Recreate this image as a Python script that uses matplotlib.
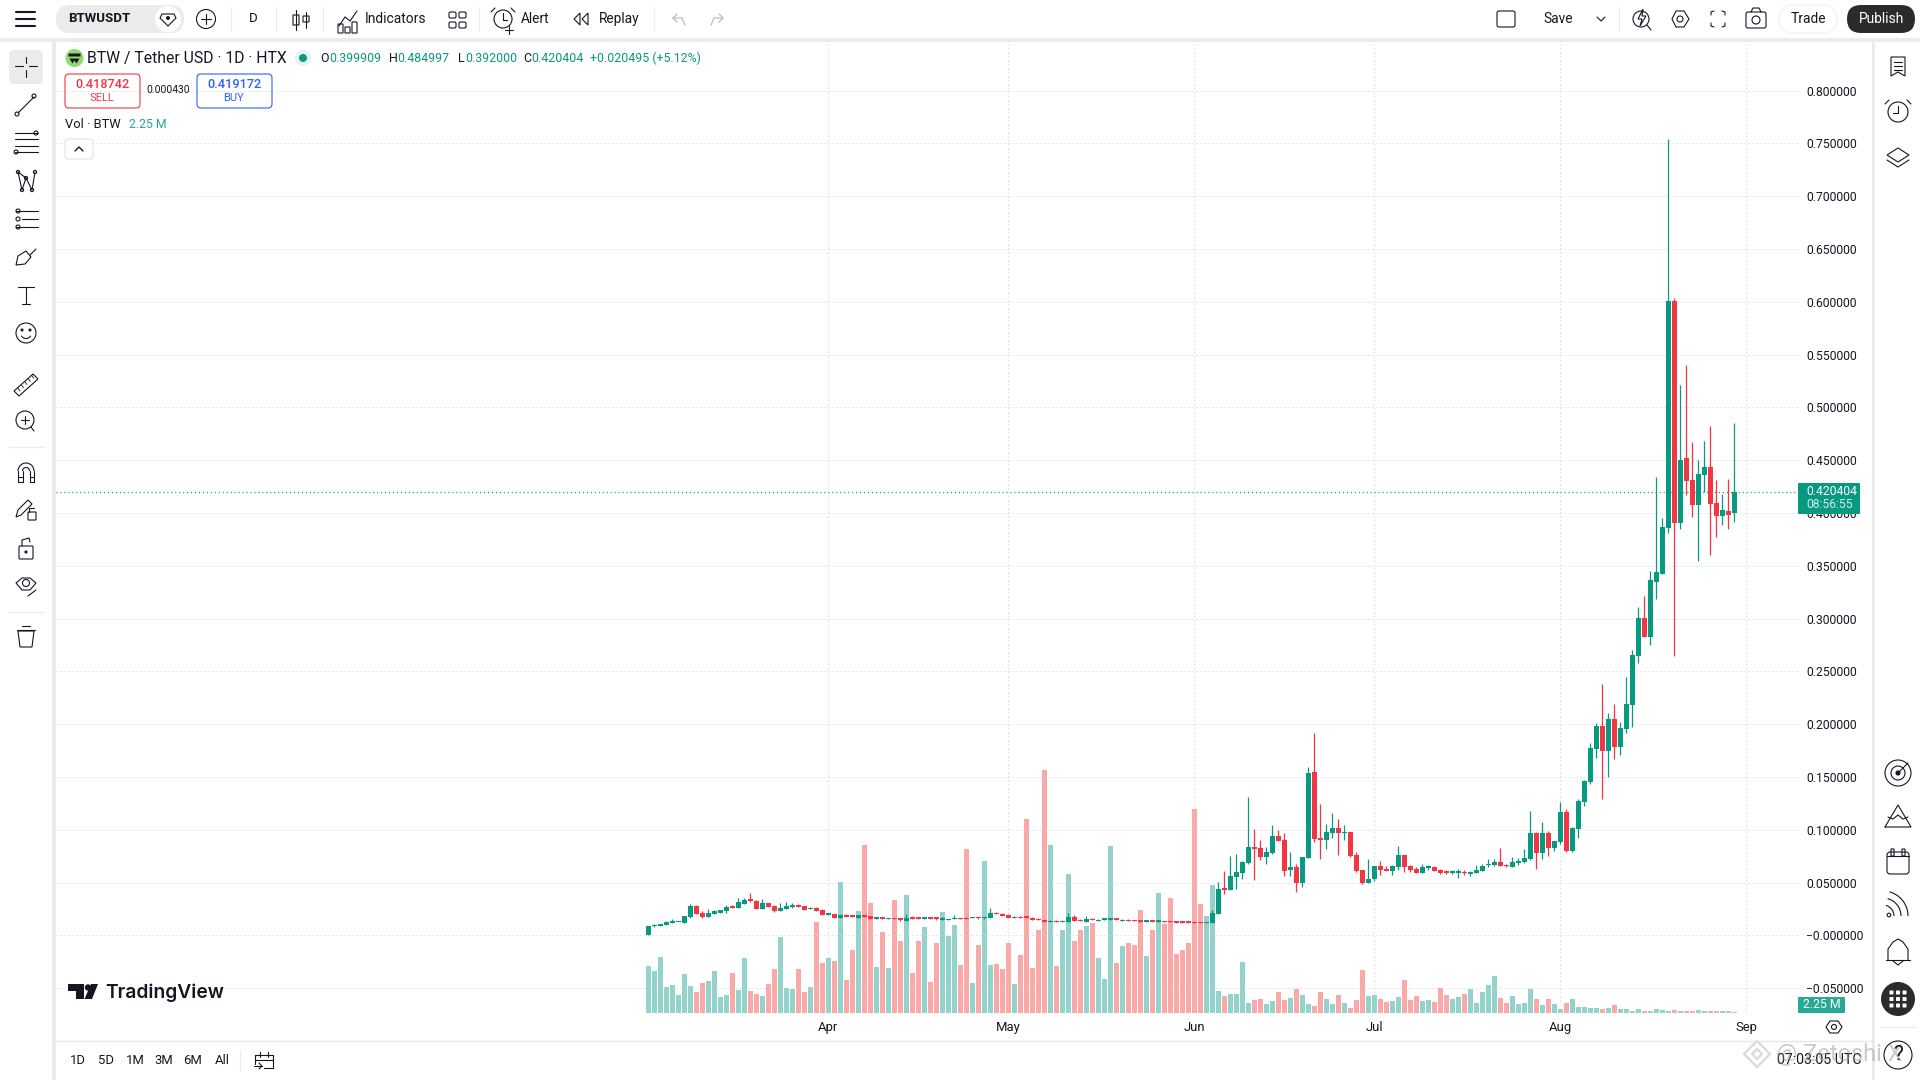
import numpy as np, pandas as pd
import matplotlib; matplotlib.use("Agg"); import matplotlib.pyplot as plt
import matplotlib.dates as mdates
from matplotlib.patches import Arc, Circle, FancyBboxPatch, Polygon, Rectangle

plt.rcParams["font.family"] = ["Roboto", "DejaVu Sans"]

GREEN, RED, BLUE, INK = "#089981", "#F23645", "#2962FF", "#131722"
VOL_G, VOL_R = "#93D3CB", "#FAA9A9"
GRID, BAND = "#CFCFCF", "#EBEBEB"

# daily candles, Mar 2 -> Aug 31
start = "2025-03-02"
opens = [.0006,.0092,.0092,.0101,.0120,.0124,.0120,.0174,.0282,.0212,
         .0178,.0206,.0216,.0235,.0273,.0263,.0301,.0339,.0330,.0254,
         .0311,.0282,.0235,.0254,.0273,.0292,.0282,.0247,.0263,.0244,
         .0197,.0206,.0168,.0197,.0187,.0168,.0197,.0187,.0159,.0168,
         .0152,.0159,.0159,.0139,.0168,.0168,.0159,.0168,.0168,.0150,
         .0147,.0156,.0169,.0169,.0166,.0175,.0166,.0166,.0213,.0204,
         .0194,.0166,.0175,.0175,.0166,.0156,.0147,.0128,.0137,.0128,
         .0128,.0175,.0147,.0128,.0156,.0137,.0150,.0150,.0156,.0137,
         .0147,.0147,.0137,.0131,.0137,.0131,.0134,.0134,.0131,.0131,
         .0131,.0125,.0125,.0119,.0119,.0204,.0441,.0431,.0555,.0593,
         .0687,.0839,.0830,.0744,.0782,.0943,.0905,.0621,.0649,.0498,
         .0735,.1550,.0924,.0905,.0972,.1019,.0972,.0981,.0763,.0621,
         .0498,.0536,.0659,.0630,.0611,.0649,.0763,.0659,.0630,.0593,
         .0643,.0649,.0621,.0605,.0596,.0596,.0605,.0583,.0593,.0611,
         .0668,.0668,.0697,.0668,.0649,.0687,.0697,.0725,.0972,.0782,
         .0972,.0830,.0886,.1171,.0801,.1010,.1265,.1455,.1768,.1986,
         .1749,.2052,.1787,.1957,.2185,.2650,.3010,.2830,.3351,.3426,
         .3863,.6005,.3910,.4517,.4310,.4073,.4356,.4441,.4100,.3977,
         .4024,.399909]
highs = [.0092,.0111,.0111,.0139,.0159,.0130,.0187,.0301,.0292,.0235,
         .0254,.0244,.0244,.0292,.0292,.0358,.0358,.0406,.0339,.0349,
         .0311,.0292,.0311,.0320,.0311,.0301,.0282,.0273,.0269,.0254,
         .0206,.0206,.0206,.0206,.0187,.0197,.0197,.0187,.0178,.0168,
         .0168,.0168,.0168,.0206,.0187,.0178,.0178,.0168,.0168,.0175,
         .0156,.0194,.0169,.0175,.0175,.0175,.0175,.0261,.0223,.0213,
         .0204,.0185,.0185,.0175,.0175,.0166,.0147,.0147,.0147,.0147,
         .0213,.0194,.0156,.0185,.0166,.0156,.0156,.0156,.0156,.0156,
         .0156,.0147,.0147,.0147,.0147,.0137,.0134,.0134,.0141,.0141,
         .0141,.0125,.0125,.0125,.0242,.0507,.0611,.0754,.0773,.0706,
         .1313,.1010,.0905,.0839,.1048,.1000,.0972,.0792,.0678,.0744,
         .1597,.1920,.1247,.1057,.1161,.1104,.1048,.0981,.0792,.0621,
         .0725,.0659,.0706,.0659,.0668,.0848,.0763,.0668,.0649,.0678,
         .0668,.0659,.0630,.0621,.0621,.0630,.0621,.0611,.0668,.0678,
         .0725,.0725,.0830,.0678,.0744,.0735,.0820,.1180,.0981,.1076,
         .0991,.0896,.1266,.1199,.1029,.1294,.1474,.1825,.2014,.2384,
         .2109,.2194,.2024,.2450,.2706,.3114,.3218,.3455,.4337,.3958,
         .7540,.6034,.5209,.5398,.4677,.4507,.4678,.4820,.4318,.4185,
         .4327,.484997]
lows = [.0006,.0082,.0092,.0101,.0120,.0124,.0120,.0168,.0206,.0168,
        .0178,.0206,.0216,.0216,.0263,.0263,.0301,.0317,.0254,.0254,
        .0273,.0225,.0235,.0254,.0263,.0273,.0244,.0247,.0235,.0197,
        .0197,.0168,.0168,.0178,.0178,.0168,.0178,.0159,.0159,.0159,
        .0152,.0152,.0139,.0139,.0159,.0159,.0159,.0159,.0149,.0150,
        .0147,.0156,.0156,.0156,.0166,.0156,.0156,.0166,.0204,.0185,
        .0166,.0166,.0166,.0169,.0147,.0147,.0128,.0128,.0128,.0128,
        .0128,.0137,.0137,.0128,.0147,.0137,.0150,.0150,.0150,.0137,
        .0137,.0137,.0131,.0131,.0131,.0131,.0128,.0128,.0122,.0122,
        .0122,.0119,.0119,.0119,.0119,.0204,.0393,.0431,.0441,.0536,
        .0678,.0526,.0716,.0678,.0773,.0896,.0564,.0564,.0412,.0460,
        .0735,.0886,.0725,.0820,.0924,.0763,.0905,.0744,.0602,.0488,
        .0498,.0517,.0574,.0611,.0574,.0621,.0602,.0602,.0593,.0593,
        .0621,.0611,.0583,.0583,.0583,.0545,.0574,.0564,.0593,.0611,
        .0649,.0659,.0659,.0649,.0649,.0668,.0687,.0716,.0630,.0725,
        .0754,.0801,.0867,.0792,.0792,.0924,.1228,.1436,.1683,.1294,
        .1502,.1673,.1711,.1920,.1976,.2583,.2830,.2754,.3190,.3426,
        .3815,.2650,.3847,.4175,.3967,.3544,.4195,.3607,.3778,.3891,
        .3853,.392000]
closes = [.0092,.0101,.0111,.0127,.0133,.0130,.0187,.0282,.0206,.0178,
          .0216,.0228,.0244,.0273,.0263,.0320,.0339,.0330,.0254,.0311,
          .0273,.0235,.0263,.0282,.0292,.0273,.0244,.0263,.0235,.0197,
          .0206,.0168,.0197,.0178,.0178,.0197,.0178,.0159,.0168,.0159,
          .0159,.0152,.0149,.0168,.0159,.0159,.0168,.0159,.0159,.0163,
          .0156,.0166,.0156,.0156,.0175,.0163,.0175,.0213,.0204,.0185,
          .0166,.0175,.0166,.0169,.0147,.0147,.0128,.0137,.0128,.0137,
          .0175,.0137,.0137,.0156,.0147,.0147,.0156,.0156,.0150,.0147,
          .0137,.0137,.0131,.0137,.0131,.0137,.0128,.0128,.0122,.0122,
          .0122,.0119,.0119,.0125,.0213,.0441,.0434,.0564,.0602,.0697,
          .0839,.0820,.0744,.0792,.0943,.0896,.0611,.0649,.0498,.0744,
          .1541,.0915,.0905,.0981,.1019,.0972,.0981,.0754,.0611,.0498,
          .0536,.0659,.0621,.0611,.0659,.0763,.0649,.0621,.0593,.0649,
          .0656,.0611,.0593,.0596,.0605,.0602,.0593,.0602,.0621,.0659,
          .0678,.0697,.0659,.0659,.0697,.0706,.0735,.0972,.0782,.0972,
          .0830,.0896,.1171,.0801,.1019,.1275,.1465,.1777,.1986,.1749,
          .2052,.1787,.1967,.2194,.2659,.3010,.2830,.3370,.3446,.3872,
          .6005,.3910,.4507,.4300,.4073,.4367,.4441,.4090,.3977,.4033,
          .3986,.420404]
volumes = [106,94.5,126,58.5,63,40.5,87.8,60.8,47.3,67.5,
           72,94.5,36,40.5,90,51.8,123.8,49.5,42.8,38.3,
           65.3,99,171,56.3,54,99,47.3,58.5,204.8,112.5,
           123.8,117,294.8,74.3,141.8,229.5,378,247.5,103.5,182.3,
           101.3,254.3,162,265.5,90,162,193.5,69.8,157.5,226.5,
           172.5,197.3,107.3,368.3,66.8,152.3,341.3,107.3,109.5,98.3,
           156.8,64.5,129.8,435.8,100.5,186,546,377.3,105,186,
           312,161.3,186,195,201.8,123,75.8,375,111.8,150,
           156.8,152.3,231,127.5,186,269.3,199.5,258,132,141,
           156.8,458.3,244.5,217.5,287.3,48.8,37.5,42,42,114.8,
           22.5,29.3,31.5,20.3,27,47.3,29.3,33.8,54,40.5,
           20.3,15.8,47.3,31.5,20.3,40.5,22.5,11.3,29.3,96.8,
           38.3,40.5,31.5,24.8,27,36,74.3,29.3,38.3,27,
           29.3,24.8,56.3,40.5,31.5,36,42.8,54,22.5,47.3,
           63,83.3,33.8,22.5,38.3,20.3,22.5,54,31.5,18,
           31.5,20.3,9,22.5,31.5,13.5,13.5,11.3,11.3,9,
           11.3,18,9,9,4.5,9,4.5,4.5,9,6.8,
           4.5,6.8,4.5,4.5,4.5,6.8,4.5,4.5,4.5,4.5,
           4.5,2.25]
price_ticks = [.8,.75,.7,.65,.6,.55,.5,.45,.4,.35,.3,.25,.2,.15,.1,.05,0,-.05]
price_labels = ["0.800000","0.750000","0.700000","0.650000","0.600000","0.550000",
                "0.500000","0.450000","0.400000","0.350000","0.300000","0.250000",
                "0.200000","0.150000","0.100000","0.050000","\u22120.000000","\u22120.050000"]
month_days = ["2025-04-01","2025-05-01","2025-06-01","2025-07-01","2025-08-01","2025-09-01"]
month_labels = ["Apr","May","Jun","Jul","Aug","Sep"]

o, h, l, c, v = map(np.array, (opens, highs, lows, closes, volumes))
assert len(o) == len(h) == len(l) == len(c) == len(v)
xs = mdates.date2num(pd.date_range(start, periods=len(o)))
up = c >= o

W, H = 1920, 1080
fig = plt.figure(figsize=(W / 100, H / 100), dpi=100, facecolor=BAND)


def rect_px(x0, y0, x1, y1):
    return [x0 / W, 1 - y1 / H, (x1 - x0) / W, (y1 - y0) / H]


# white panels behind the chart
bg = fig.add_axes([0, 0, 1, 1], zorder=0); bg.set_xlim(0, W); bg.set_ylim(H, 0); bg.axis("off")
for x0, y0, x1, y1 in [(0, 0, W, 38), (0, 42, 52, H), (56, 42, 1872, H), (1875, 42, W, H)]:
    bg.add_patch(Rectangle((x0, y0), x1 - x0, y1 - y0, fc="white", ec="none"))

# chart: 6px per day, 1056px per 1.0 of price
ax = fig.add_axes(rect_px(56, 42, 1798, 1013), zorder=2)
ax.patch.set_visible(False)
ax.set_xlim(xs[0] - 98.72, xs[0] + 191.62)
ax.set_ylim(-.0734, .8461)
vol = fig.add_axes(ax.get_position(), zorder=1, sharex=ax)
vol.patch.set_visible(False); vol.axis("off")
vol.set_ylim(0, 2185)
vol.bar(xs, v, width=5 / 6, color=np.where(up, VOL_G, VOL_R), linewidth=0)

ax.set_axisbelow(True)
ax.grid(True, color=GRID, lw=.72, ls=(0, (1, 3)))
ax.axhline(c[-1], color=GREEN, lw=.95, ls=(0, (.8, 2.2)), zorder=1.5, snap=True)
ax.vlines(xs, l, h, colors=np.where(up, GREEN, RED), lw=.9, zorder=2)
ax.bar(xs, np.maximum(np.abs(c - o), .0012), bottom=np.minimum(o, c), width=5 / 6,
       color=np.where(up, GREEN, RED), linewidth=0, zorder=3)
ax.set_yticks(price_ticks, price_labels)
ax.yaxis.tick_right()
ax.set_xticks(mdates.date2num(pd.to_datetime(month_days)), month_labels)
ax.tick_params(axis="y", length=0, pad=5.8, labelsize=8.7, labelcolor=INK)
ax.tick_params(axis="x", length=0, pad=5.5, labelsize=9.4, labelcolor=INK)
for t in ax.get_yticklabels():
    t.set_va("center_baseline")
for s in ax.spines.values():
    s.set_visible(False)

# toolbars and header, in plain pixels
ui = fig.add_axes([0, 0, 1, 1], zorder=3); ui.set_xlim(0, W); ui.set_ylim(H, 0); ui.axis("off")


def T(x, y, s, size=10, c=INK, ha="left", **kw):
    ui.text(x, y, s, fontsize=size, color=c, ha=ha, va="center", **kw)

def L(*pts, c=INK, lw=.8):
    ui.plot(*zip(*pts), color=c, lw=lw, solid_capstyle="round")

def C(x, y, r, fc="none", ec=INK, lw=.8):
    ui.add_patch(Circle((x, y), r, fc=fc, ec=ec, lw=lw))

def R(x, y, w, h, rad=0, fc="none", ec=INK, lw=.8):
    ui.add_patch(FancyBboxPatch((x, y), w, h, boxstyle=f"round,pad=0,rounding_size={rad}", fc=fc, ec=ec, lw=lw))

def P(pts, fc="none", ec=INK, lw=.8):
    ui.add_patch(Polygon(pts, closed=True, fc=fc, ec=ec, lw=lw))


# --- top bar
for y in (12, 19, 26):
    L((16, y), (35, y), lw=1.5)
R(56, 5, 128, 28, 14, fc=BAND, ec="none")
T(68, 19, "BTWUSDT", 9.5, weight="bold")
C(168, 19, 13, fc="white", ec="none")
P([(162, 14), (174, 14), (176, 18), (168, 26), (160, 18)])
C(168, 18, 2, fc=INK, lw=0)
C(206, 19, 9.5); L((201, 19), (211, 19)); L((206, 14), (206, 24))
T(253, 19, "D", 9.5, ha="center")
for x in (231, 276, 323, 479, 654, 1619):
    L((x, 7), (x, 31), c=BAND)
L((296, 10), (296, 30)); R(293, 15, 6, 10, fc="white")
L((306, 12), (306, 28)); R(303, 16, 6, 6, fc="white")
L((339, 26), (345, 17), (350, 21), (357, 11))
for x, y in [(340, 24), (347, 27), (354, 22)]:
    R(x - 2, y, 5, 33 - y)
T(365, 19, "Indicators", 9.9)
for x in (449, 459):
    R(x, 12, 7, 6, 1.5); R(x, 22, 7, 6, 1.5)
C(503, 19, 9); L((503, 13), (503, 20), (507, 20)); L((495, 8), (491, 12)); L((511, 8), (515, 12))
L((505, 30), (513, 30)); L((509, 26), (509, 34))
T(521, 19, "Alert", 9.9)
P([(574, 19), (580, 13), (580, 25)]); P([(582, 19), (588, 13), (588, 25)])
T(599, 19, "Replay", 9.9)
L((677, 14), (673, 18), (677, 22), c="#B2B5BE"); L((673, 18), (682, 18), (685, 25), c="#B2B5BE")
L((719, 14), (723, 18), (719, 22), c="#B2B5BE"); L((723, 18), (714, 18), (711, 25), c="#B2B5BE")
R(1497, 11, 18, 16, 2)
T(1558, 19, "Save", 9.9, ha="center")
L((1597, 17), (1601, 21), (1605, 17))
C(1641, 19, 8); L((1647, 25), (1651, 30)); P([(1643, 9), (1638, 19), (1642, 19), (1640, 26), (1646, 16), (1642, 16)], fc="white")
P([(1672, 19), (1676, 11), (1684, 11), (1689, 19), (1684, 27), (1676, 27)]); C(1680, 19, 3)
a, b = 1711, 1725
L((a, 15), (a, 12), (a + 3, 11)); L((b - 3, 11), (b, 12), (b, 15))
L((a, 23), (a, 26), (a + 3, 27)); L((b - 3, 27), (b, 26), (b, 23))
R(1746, 12, 20, 16, 2); C(1756, 20, 4); L((1751, 12), (1753, 8), (1759, 8), (1761, 12))
R(1779, 5, 58, 28, 14, ec="#F0F0F0")
T(1808, 19, "Trade", 9.9, ha="center")
R(1847, 5, 68, 28, 14, fc="#2B2B2B", ec="none")
T(1881, 19, "Publish", 9.9, c="white", ha="center")

# --- legend block
C(74.5, 58, 9, fc="#8DDB6A", ec="none")
R(68.5, 53.5, 12, 3, fc=INK, ec="none"); P([(69.5, 58.5), (79.5, 58.5), (76.5, 63.5), (74.5, 60.5), (72.5, 63.5)], fc=INK, ec="none")
T(87, 58, "BTW / Tether USD \u00b7 1D \u00b7 HTX", 11.3)
C(303, 58, 8, fc="#E6F3F1", ec="none"); C(303, 58, 4, fc=GREEN, ec="none")
for x, s in [(320, "O"), (389, "H"), (458, "L"), (523, "C")]:
    T(x, 58, s, 8.9)
for x, s in [(329, "0.399909"), (397, "0.484997"), (465, "0.392000"), (531, "0.420404"),
             (590, "+0.020495 (+5.12%)")]:
    T(x, 58, s, 8.9, c=GREEN)
R(65, 74, 75, 34, 4, ec=RED)
T(102, 84, "0.418742", 9.2, c=RED, ha="center", weight="medium")
T(102, 98, "SELL", 8, c=RED, ha="center")
T(168, 90, "0.000430", 7.4, ha="center")
R(197, 74, 75, 34, 4, ec=BLUE)
T(234, 84, "0.419172", 9.2, c=BLUE, ha="center", weight="medium")
T(234, 98, "BUY", 8, c=BLUE, ha="center")
T(65, 125, "Vol \u00b7 BTW", 9.3)
T(129, 125, "2.25 M", 8.8, c="#26A69A")
R(65, 139, 28, 20, 3, fc="white", ec="#E0E3EB")
L((75, 151), (79, 147), (83, 151), lw=1)

# --- price tags
R(1798, 483, 62, 31, 1, fc=GREEN, ec="none")
T(1806, 491.5, "0.420404", 8.7, c="white")
T(1806, 505, "08:56:55", 8.7, c="#CFEBE6")
R(1798, 997, 47, 16, 1, fc="#26A996", ec="none")
T(1821.5, 1005, "2.25 M", 8.8, c="white", ha="center")
P([(1826, 1027), (1830, 1021), (1838, 1021), (1842, 1027), (1838, 1033), (1830, 1033)]); C(1834, 1027, 2.5)

# --- logo
P([(68, 984), (84, 984), (84, 999), (76, 999), (76, 991), (68, 991)], fc=INK, ec="none")
C(88, 987.5, 3.2, fc=INK, ec="none")
P([(91, 984), (98, 984), (92, 999), (84.5, 999)], fc=INK, ec="none")
T(105, 992.5, "TradingView", 13.9, weight="semibold", family="Inter")

# --- bottom bar
L((56, 1041), (1872, 1041), c="#E6E6E6", lw=1)
for x, s in [(78, "1D"), (106, "5D"), (135, "1M"), (164, "3M"), (193, "6M"), (222, "All")]:
    T(x, 1060, s, 9.4, ha="center")
L((240, 1050), (240, 1071), c=BAND)
L((255, 1064), (255, 1055), (273, 1055), (273, 1068), (264, 1068)); L((255, 1060), (273, 1060))
L((260, 1052), (260, 1057)); L((268, 1052), (268, 1057))
L((254, 1066), (262, 1066)); L((259, 1063), (262, 1066), (259, 1069))
T(1777, 1060, "07:03:05 UTC", 10.2)
ui.text(1776, 1055, "@ Zetoshi X", fontsize=17, color="#8C8C8C", alpha=.45, va="center")
P([(1757, 1041), (1770, 1054), (1757, 1067), (1744, 1054)], ec="#DADADA", lw=1.6)
P([(1757, 1049), (1762, 1054), (1757, 1059), (1752, 1054)], ec="#DADADA", lw=1.6)

# --- left tools
R(9, 50, 34, 34, 5, fc=BAND, ec="none")
L((26, 57), (26, 63)); L((26, 70), (26, 77)); L((15, 66), (23, 66)); L((29, 66), (37, 66))
L((18, 113), (34, 97)); C(17, 114, 2, fc="white"); C(34, 96, 2, fc="white")
for y in (133, 139, 146, 152):
    L((15, y), (38, y))
C(36, 133, 2, fc="white"); C(16, 152, 2, fc="white")
L((18, 172), (22, 190), (26, 178), (32, 190), (35, 172))
L((18, 172), (26, 178))
for x, y in [(18, 172), (22, 190), (26, 178), (32, 190), (35, 172)]:
    C(x, y, 1.6, fc="white")
for y, x0 in [(211, 16), (219, 22), (227, 16)]:
    L((x0, y), (38, y))
C(18, 211, 2, fc="white"); C(18, 219, 2, fc="white"); C(18, 227, 2, fc="white")
P([(16, 265), (18, 256), (26, 251), (31, 257), (25, 264)]); L((30, 255), (36, 249))
L((18, 287), (34, 287)); L((26, 287), (26, 304)); L((22, 304), (30, 304))
C(26, 333, 10); C(22, 330, 1, fc=INK); C(30, 330, 1, fc=INK)
ui.add_patch(Arc((26, 334), 10, 9, theta1=20, theta2=160, color=INK, lw=.8))
P([(14, 391), (33, 374), (38, 379), (19, 396)])
for i in range(5):
    L((18 + 3.4 * i, 388 - 3.2 * i), (20 + 3.4 * i, 391 - 3.2 * i), lw=.6)
C(25, 420, 9); L((31, 427), (34, 431)); L((21, 420), (29, 420)); L((25, 416), (25, 424))
for y in (447, 612):
    L((8, y), (44, y), c=BAND)
ui.add_patch(Arc((26, 471), 16, 16, theta1=180, theta2=360, color=INK, lw=.8))
ui.add_patch(Arc((26, 471), 7, 7, theta1=180, theta2=360, color=INK, lw=.8))
L((18, 471), (18, 482), (22.5, 482), (22.5, 471)); L((29.5, 471), (29.5, 482), (34, 482), (34, 471))
L((18, 477), (22.5, 477)); L((29.5, 477), (34, 477))
P([(16, 517), (18, 510), (28, 500), (32, 504), (21, 515)])
R(28, 512, 8, 8); L((29, 512), (29, 508), (34, 508))
R(19, 546, 14, 13, 1); L((22, 546), (22, 540), (29, 538), (30, 542)); C(26, 552, 1, fc=INK)
P([(16, 583), (22, 578), (30, 578), (36, 583), (30, 590), (22, 590)]); C(26, 583, 3.5)
L((28, 596), (36, 590))
P([(18, 631), (34, 631), (32, 647), (20, 647)]); L((22, 626), (30, 626)); L((17, 630), (35, 630))

# --- right tools
P([(1891, 57), (1905, 57), (1905, 76), (1898, 72), (1891, 76)])
for y in (62, 66, 70):
    L((1894, y), (1902, y))
C(1898, 112, 10); L((1898, 106), (1898, 113), (1893, 113)); L((1889, 100), (1885, 104)); L((1907, 100), (1911, 104))
P([(1898, 148), (1909, 155), (1898, 162), (1887, 155)]); L((1887, 160), (1898, 167), (1909, 160))
C(1898, 773, 13); C(1898, 773, 7); C(1898, 773, 2, fc=INK); L((1898, 773), (1908, 763))
L((1885, 827), (1898, 805), (1911, 827), (1885, 827)); L((1888, 817), (1893, 819), (1898, 815), (1903, 819), (1908, 817))
R(1887, 852, 22, 22, 3); L((1887, 856), (1909, 856)); R(1891, 849, 3, 7); R(1902, 849, 3, 7)
C(1889, 915, 1.8)
for rad in (11, 18, 25):
    ui.add_patch(Arc((1883, 916), 2 * rad, 2 * rad, theta1=285, theta2=360, color=INK, lw=.8))
L((1888, 960), (1888, 949), (1893, 942), (1898, 939), (1903, 942), (1908, 949), (1908, 960)); L((1886, 960), (1910, 960))
L((1893, 961), (1898, 965), (1903, 961))
C(1898, 999, 17, fc="#2B2B2B", ec="none")
for dx in (-6.5, 0, 6.5):
    for dy in (-6.5, 0, 6.5):
        R(1898 + dx - 2, 999 + dy - 2, 4, 4, .6, fc="white", ec="none")
L((1880, 1027), (1916, 1027), c=BAND)
C(1898, 1055, 14)
T(1898, 1055, "?", 15, ha="center")

fig.savefig("out.png", dpi=100, facecolor=BAND)
